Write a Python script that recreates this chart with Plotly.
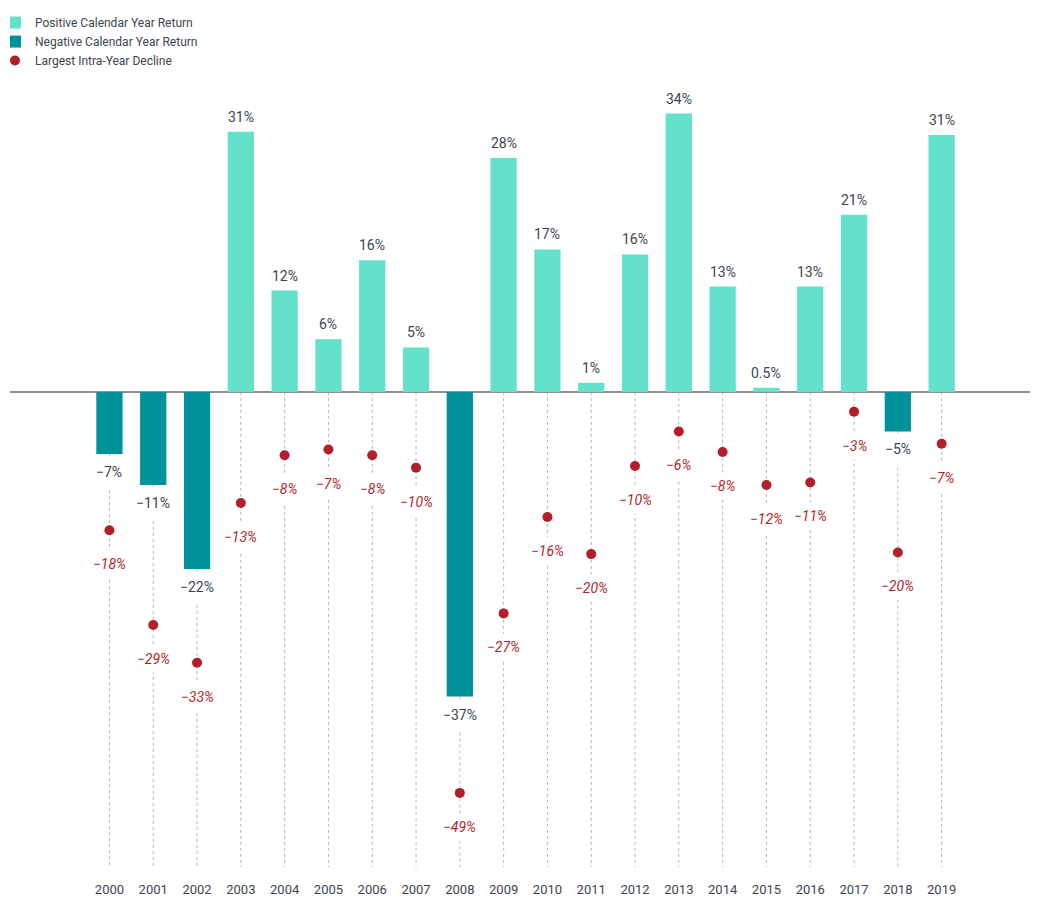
import plotly.graph_objects as go

years = list(range(2000, 2020))
calendar_returns = [-7.55, -11.3, -21.5, 31.6, 12.3, 6.4, 16.0, 5.4, -37.0, 28.4,
                    17.3, 1.1, 16.7, 33.8, 12.8, 0.5, 12.8, 21.5, -4.8, 31.2]
return_labels = ["−7%", "−11%", "−22%", "31%", "12%", "6%", "16%", "5%", "−37%", "28%",
                 "17%", "1%", "16%", "34%", "13%", "0.5%", "13%", "21%", "−5%", "31%"]
intra_year_declines = [-16.8, -28.3, -32.9, -13.5, -7.7, -7.0, -7.7, -9.2, -48.7, -26.9,
                       -15.2, -19.7, -9.0, -4.8, -7.3, -11.3, -11.0, -2.4, -19.5, -6.3]
decline_labels = ["−18%", "−29%", "−33%", "−13%", "−8%", "−7%", "−8%", "−10%", "−49%", "−27%",
                  "−16%", "−20%", "−10%", "−6%", "−8%", "−12%", "−11%", "−3%", "−20%", "−7%"]

POS = "#64e1ca"
NEG = "#00929b"
RED = "#b21f2a"
TXT = "#3d4550"
FONT = "Liberation Sans Narrow, Roboto, Arial, sans-serif"

YMIN, YMAX = -57.7, 38.0

pos_x = [y for y, r in zip(years, calendar_returns) if r >= 0]
pos_y = [r for r in calendar_returns if r >= 0]
neg_x = [y for y, r in zip(years, calendar_returns) if r < 0]
neg_y = [r for r in calendar_returns if r < 0]

fig = go.Figure()
fig.add_trace(go.Bar(x=pos_x, y=pos_y, width=0.6, marker=dict(color=POS, line=dict(width=0)),
                     name="Positive Calendar Year Return", hoverinfo="skip"))
fig.add_trace(go.Bar(x=neg_x, y=neg_y, width=0.6, marker=dict(color=NEG, line=dict(width=0)),
                     name="Negative Calendar Year Return", hoverinfo="skip"))
fig.add_trace(go.Scatter(x=years, y=intra_year_declines, mode="markers",
                         marker=dict(color=RED, size=10, line=dict(width=0)),
                         name="Largest Intra-Year Decline", hoverinfo="skip"))

shapes = []
for y, r in zip(years, calendar_returns):
    shapes.append(dict(type="line", xref="x", yref="y", x0=y, x1=y, y0=min(0, r), y1=YMIN,
                       line=dict(color="#b4b8bc", width=1, dash="dot"), layer="below"))

annotations = []
for y, r, lab in zip(years, calendar_returns, return_labels):
    if r >= 0:
        annotations.append(dict(x=y, y=r, text=lab, showarrow=False, yanchor="middle", yshift=15,
                                font=dict(family=FONT, size=14, color=TXT)))
    else:
        annotations.append(dict(x=y, y=r, text=lab, showarrow=False, yanchor="middle", yshift=-18,
                                font=dict(family=FONT, size=14, color=TXT),
                                bgcolor="white", borderpad=7))
for y, d, lab in zip(years, intra_year_declines, decline_labels):
    annotations.append(dict(x=y, y=d, text="<i>" + lab + "</i>", showarrow=False, yanchor="middle",
                            yshift=-34, font=dict(family=FONT, size=14, color=RED),
                            bgcolor="white", borderpad=5))

fig.update_layout(
    width=1030, height=889,
    margin=dict(l=2, r=0, t=67, b=24),
    plot_bgcolor="white", paper_bgcolor="white",
    barmode="overlay",
    showlegend=True,
    legend=dict(x=0, y=1.09, xanchor="left", yanchor="top", bgcolor="rgba(0,0,0,0)",
                font=dict(family=FONT, size=12, color=TXT), tracegroupgap=0, itemwidth=30,
                indentation=-15),
    xaxis=dict(range=[1997.73, 2021.2], tickmode="array", tickvals=years,
               ticktext=[str(y) for y in years], showgrid=False, zeroline=False, showline=False,
               ticks="outside", ticklen=10, tickcolor="white",
               tickfont=dict(family=FONT, size=13, color=TXT)),
    yaxis=dict(range=[YMIN, YMAX], showgrid=False, showticklabels=False, zeroline=True,
               zerolinecolor="#8a8e92", zerolinewidth=1.5, showline=False),
    shapes=shapes,
    annotations=annotations,
)

fig.write_html("out.html")
